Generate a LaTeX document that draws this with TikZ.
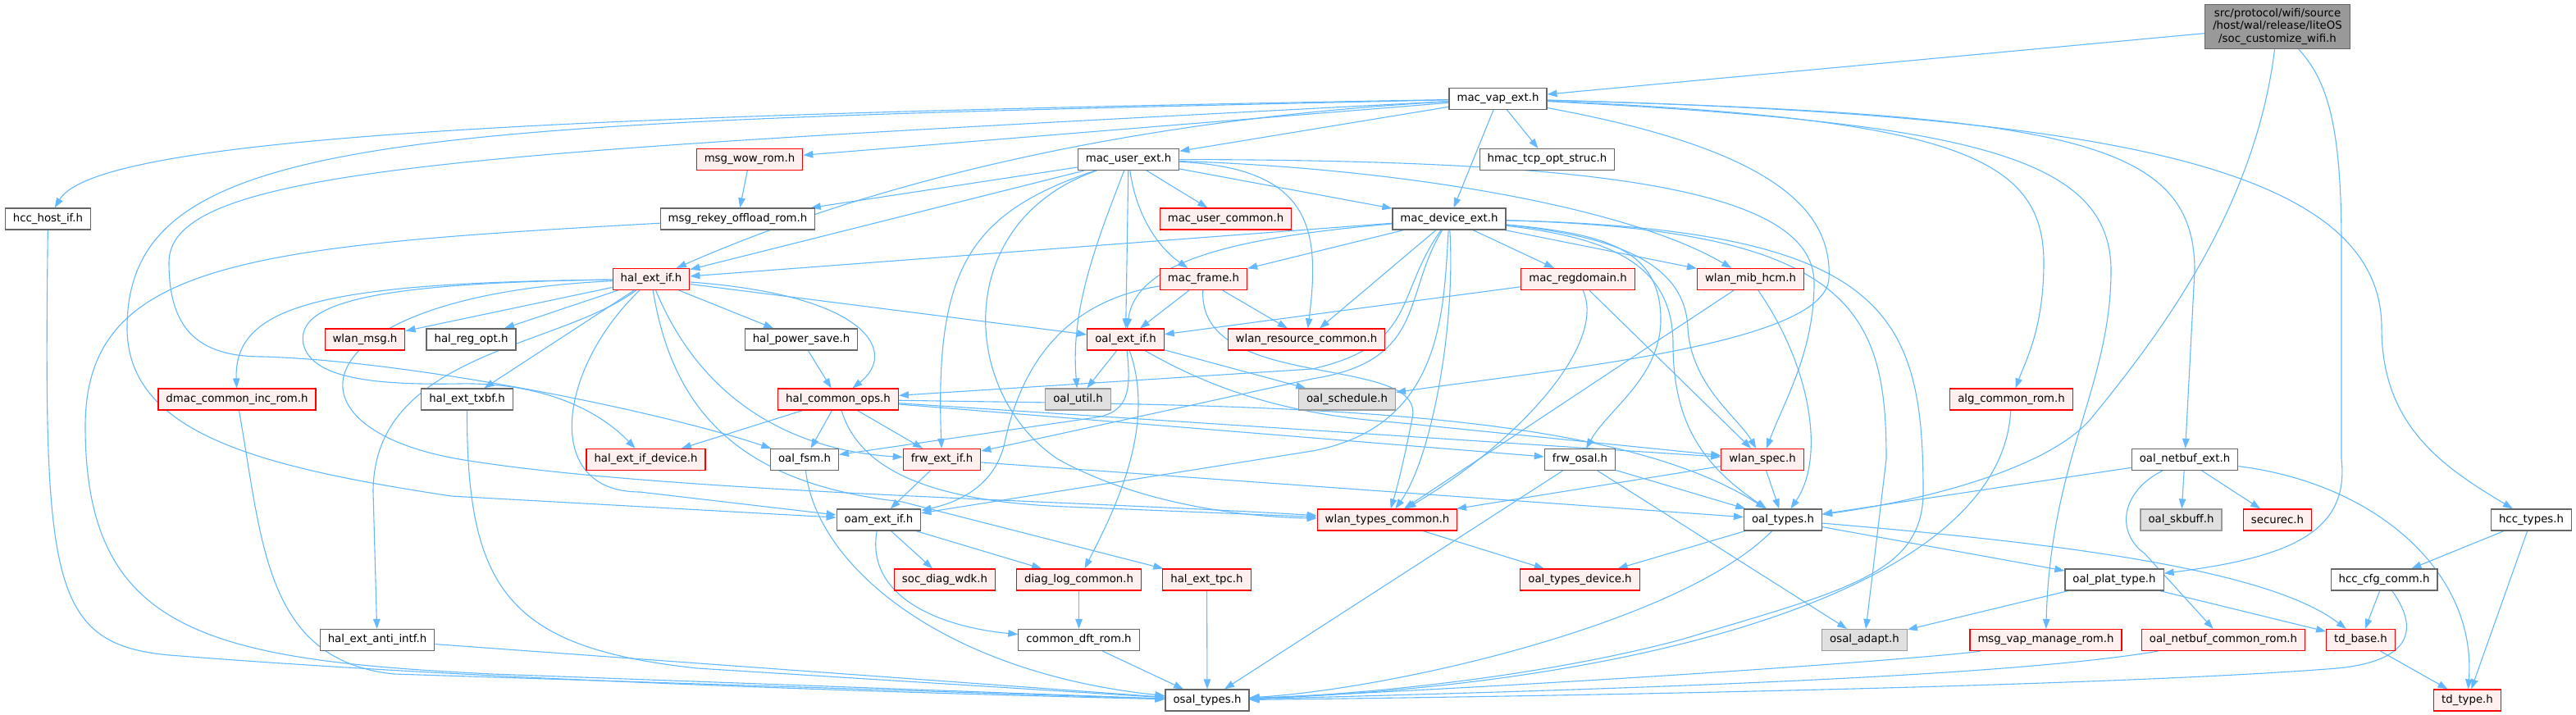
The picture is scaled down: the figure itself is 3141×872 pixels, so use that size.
\documentclass[tikz,border=0pt]{standalone}
\usepackage{fontspec}
\setmainfont{DejaVu Sans}
\usetikzlibrary{arrows.meta}

\definecolor{edgeblue}{HTML}{63B8FF}
\definecolor{boxgray}{HTML}{666666}
\definecolor{truncfill}{HTML}{FFF0F0}
\definecolor{undocline}{HTML}{999999}
\definecolor{undocfill}{HTML}{E0E0E0}
\definecolor{rootfill}{HTML}{999999}

\newcommand{\dotfont}{\fontsize{13.3}{15.5}\selectfont}

\pgfdeclarelayer{bg}
\pgfsetlayers{bg,main}

\begin{document}
\begin{tikzpicture}[x=1pt, y=-1pt,
	hdr/.style = {draw=boxgray, fill=white, line width=1.2pt,
		minimum height=26pt, inner xsep=9.5pt, inner ysep=2pt, font=\dotfont},
	hdrred/.style = {hdr, draw=red, fill=truncfill},
	hdrgray/.style = {hdr, draw=undocline, fill=undocfill},
	hdrroot/.style = {hdr, fill=rootfill, align=center, inner ysep=5pt},
	incl/.style = {draw=edgeblue, line width=1.1pt,
		-{Triangle[length=12pt, width=8.5pt]}}]
	
	\useasboundingbox (0,0) rectangle (3141,872);
	
	% Root file
	\node[hdrroot] (root) at (2777,32.5) {src/protocol/wifi/source\\/host/wal/release/liteOS\\/soc\_customize\_wifi.h};
	
	% Rows 1 to 3
	\node[hdr] (mvap) at (1826.5,120.5) {mac\_vap\_ext.h};
	\node[hdrred] (mwow) at (914,194.5) {msg\_wow\_rom.h};
	\node[hdr] (muser) at (1376,194.5) {mac\_user\_ext.h};
	\node[hdr] (htcp) at (1886.5,194.5) {hmac\_tcp\_opt\_struc.h};
	\node[hdr] (hhost) at (58.5,267) {hcc\_host\_if.h};
	\node[hdr] (mrekey) at (899.5,267) {msg\_rekey\_offload\_rom.h};
	\node[hdrred] (mucom) at (1494.5,267) {mac\_user\_common.h};
	\node[hdr] (mdev) at (1767,267) {mac\_device\_ext.h};
	
	% Rows 4 to 6
	\node[hdrred] (halif) at (794,340.5) {hal\_ext\_if.h};
	\node[hdrred] (mframe) at (1467.5,340.5) {mac\_frame.h};
	\node[hdrred] (mreg) at (1924,340.5) {mac\_regdomain.h};
	\node[hdrred] (wmib) at (2134.5,340.5) {wlan\_mib\_hcm.h};
	\node[hdrred] (wmsg) at (445,414) {wlan\_msg.h};
	\node[hdr] (hreg) at (574.5,414) {hal\_reg\_opt.h};
	\node[hdr] (hps) at (977,414) {hal\_power\_save.h};
	\node[hdrred] (oext) at (1372.5,414) {oal\_ext\_if.h};
	\node[hdrred] (wres) at (1593,414) {wlan\_resource\_common.h};
	\node[hdrred] (dmac) at (289,487) {dmac\_common\_inc\_rom.h};
	\node[hdr] (htxbf) at (569.5,487) {hal\_ext\_txbf.h};
	\node[hdrred] (hops) at (1022,487) {hal\_common\_ops.h};
	\node[hdrgray] (outil) at (1314.5,487) {oal\_util.h};
	\node[hdrgray] (osched) at (1642.5,487) {oal\_schedule.h};
	\node[hdrred] (alg) at (2452.5,487) {alg\_common\_rom.h};
	
	% Rows 7 to 9
	\node[hdrred] (hdev) at (787.5,560.5) {hal\_ext\_if\_device.h};
	\node[hdr] (ofsm) at (981,560.5) {oal\_fsm.h};
	\node[hdrred] (fext) at (1148.5,560.5) {frw\_ext\_if.h};
	\node[hdr] (fosal) at (1926.5,560.5) {frw\_osal.h};
	\node[hdrred] (wspec) at (2149,560.5) {wlan\_spec.h};
	\node[hdr] (onext) at (2664,560.5) {oal\_netbuf\_ext.h};
	\node[hdr] (oam) at (1071.5,634) {oam\_ext\_if.h};
	\node[hdrred] (wtc) at (1691.5,634) {wlan\_types\_common.h};
	\node[hdr] (otypes) at (2174,634) {oal\_types.h};
	\node[hdrgray] (oskb) at (2659.5,634) {oal\_skbuff.h};
	\node[hdrred] (sec) at (2777,634) {securec.h};
	\node[hdr] (htypes) at (3086.5,634) {hcc\_types.h};
	\node[hdrred] (sdiag) at (1152,707) {soc\_diag\_wdk.h};
	\node[hdrred] (dlog) at (1315.5,707) {diag\_log\_common.h};
	\node[hdrred] (htpc) at (1471.5,707) {hal\_ext\_tpc.h};
	\node[hdrred] (otdev) at (1926.5,707) {oal\_types\_device.h};
	\node[hdr] (oplat) at (2578,707) {oal\_plat\_type.h};
	\node[hdr] (hcfg) at (2907,707) {hcc\_cfg\_comm.h};
	
	% Rows 10 and 11
	\node[hdr] (hanti) at (460,780.5) {hal\_ext\_anti\_intf.h};
	\node[hdr] (cdft) at (1315.5,780.5) {common\_dft\_rom.h};
	\node[hdrgray] (oadapt) at (2273.5,780.5) {osal\_adapt.h};
	\node[hdrred] (mvapm) at (2494.5,780.5) {msg\_vap\_manage\_rom.h};
	\node[hdrred] (oncom) at (2711,780.5) {oal\_netbuf\_common\_rom.h};
	\node[hdrred] (tdbase) at (2878.5,780.5) {td\_base.h};
	\node[hdr] (osal) at (1472,854) {osal\_types.h};
	\node[hdrred] (tdtype) at (3008.5,854) {td\_type.h};
	
	\begin{pgfonlayer}{bg}
	% Root file
	\draw[incl] (root) -- (mvap);
	\draw[incl] (root) .. controls (2750,250) and (2640,400) .. (2550,510) .. controls (2500,570) and (2350,610) .. (otypes);
	\draw[incl] (root) .. controls (2840,100) and (2855,160) .. (2855,300) -- (2855,560) .. controls (2865,650) and (2790,680) .. (oplat);
	
	% mac_vap_ext.h
	\draw[incl] (mvap) .. controls (700,140) and (120,165) .. (hhost);
	\draw[incl] (mvap) .. controls (500,150) and (155,155) .. (155,400) .. controls (155,530) and (320,570) .. (550,605) -- (oam);
	\draw[incl] (mvap) .. controls (600,185) and (206,200) .. (206,320) .. controls (206,400) and (240,435) .. (320,435) .. controls (500,440) and (800,500) .. (ofsm);
	\draw[incl] (mvap) -- (mwow);
	\draw[incl] (mvap) -- (muser);
	\draw[incl] (mvap) -- (htcp);
	\draw[incl] (mvap) -- (mdev);
	\draw[incl] (mvap) .. controls (1300,150) and (1000,250) .. (halif);
	\draw[incl] (mvap) .. controls (2380,145) and (2492,190) .. (2492,320) .. controls (2492,400) and (2470,440) .. (alg);
	\draw[incl] (mvap) .. controls (2400,150) and (2574,190) .. (2574,330) .. controls (2574,470) and (2500,560) .. (mvapm);
	\draw[incl] (mvap) .. controls (2520,140) and (2676,170) .. (2676,330) -- (onext);
	\draw[incl] (mvap) .. controls (2560,140) and (2904,200) .. (2904,400) .. controls (2904,520) and (2980,570) .. (htypes);
	\draw[incl] (mvap) .. controls (2150,180) and (2235,250) .. (2230,340) .. controls (2225,420) and (1900,450) .. (osched);
	
	% mac_user_ext.h
	\draw[incl] (mwow) -- (mrekey);
	\draw[incl] (muser) -- (mrekey);
	\draw[incl] (muser) -- (mucom);
	\draw[incl] (muser) -- (mdev);
	\draw[incl] (muser) -- (halif);
	\draw[incl] (muser) .. controls (1385,260) and (1410,300) .. (mframe);
	\draw[incl] (muser) -- (oext);
	\draw[incl] (muser) .. controls (1335,300) and (1305,380) .. (outil);
	\draw[incl] (muser) .. controls (1180,260) and (1140,330) .. (fext);
	\draw[incl] (muser) .. controls (1160,270) and (1170,480) .. (1290,560) .. controls (1380,610) and (1500,630) .. (wtc);
	\draw[incl] (muser) .. controls (1600,205) and (1610,280) .. (wres);
	\draw[incl] (muser) .. controls (1700,205) and (1980,250) .. (wmib);
	\draw[incl] (muser) .. controls (1950,195) and (2212,230) .. (2212,345) .. controls (2212,430) and (2175,490) .. (wspec);
	
	% mac_device_ext.h
	\draw[incl] (mdev) -- (halif);
	\draw[incl] (mdev) -- (mframe);
	\draw[incl] (mdev) .. controls (1500,290) and (1385,320) .. (oext);
	\draw[incl] (mdev) -- (mreg);
	\draw[incl] (mdev) -- (wmib);
	\draw[incl] (mdev) -- (wres);
	\draw[incl] (mdev) .. controls (1700,360) and (1730,420) .. (1600,450) -- (hops);
	\draw[incl] (mdev) .. controls (1710,360) and (1740,440) .. (1600,462) -- (fext);
	\draw[incl] (mdev) .. controls (1760,380) and (1760,520) .. (1600,550) -- (oam);
	\draw[incl] (mdev) .. controls (1775,400) and (1745,560) .. (wtc);
	\draw[incl] (mdev) .. controls (1950,285) and (2025,300) .. (2025,390) .. controls (2025,460) and (1960,500) .. (fosal);
	\draw[incl] (mdev) .. controls (1960,290) and (2040,320) .. (2040,420) .. controls (2040,520) and (2080,570) .. (otypes);
	\draw[incl] (mdev) .. controls (1990,290) and (2055,330) .. (2058,400) .. controls (2062,470) and (2120,510) .. (wspec);
	\draw[incl] (mdev) .. controls (2260,280) and (2300,380) .. (2300,560) -- (oadapt);
	\draw[incl] (mdev) .. controls (2300,280) and (2345,380) .. (2345,600) .. controls (2345,700) and (2250,720) .. (2050,780) .. controls (1900,820) and (1700,845) .. (osal);
	
	% hal_ext_if.h
	\draw[incl] (halif) -- (wmsg);
	\draw[incl] (halif) -- (hreg);
	\draw[incl] (halif) .. controls (400,345) and (285,370) .. (dmac);
	\draw[incl] (halif) -- (htxbf);
	\draw[incl] (halif) .. controls (450,345) and (360,370) .. (370,420) .. controls (380,460) and (450,470) .. (560,468) .. controls (660,466) and (730,500) .. (hdev);
	\draw[incl] (halif) -- (hps);
	\draw[incl] (halif) .. controls (1060,360) and (1095,430) .. (hops);
	\draw[incl] (halif) -- (oext);
	\draw[incl] (halif) .. controls (860,500) and (980,550) .. (fext);
	\draw[incl] (halif) .. controls (680,425) and (455,430) .. (455,600) -- (hanti);
	\draw[incl] (halif) .. controls (820,500) and (900,590) .. (1100,612) -- (htpc);
	\draw[incl] (halif) .. controls (680,450) and (660,600) .. (780,600) -- (oam);
	\draw[incl] (halif) .. controls (370,360) and (330,520) .. (560,560) .. controls (800,600) and (1300,610) .. (wtc);
	
	% hal_common_ops.h
	\draw[incl] (hps) -- (hops);
	\draw[incl] (hops) -- (hdev);
	\draw[incl] (hops) -- (ofsm);
	\draw[incl] (hops) -- (fext);
	\draw[incl] (hops) -- (fosal);
	\draw[incl] (hops) -- (wspec);
	\draw[incl] (hops) .. controls (1050,580) and (1150,612) .. (1300,618) -- (wtc);
	\draw[incl] (hops) .. controls (1500,495) and (1950,490) .. (otypes);
	
	% mac_frame.h, mac_regdomain.h, wlan_mib_hcm.h, wlan_spec.h
	\draw[incl] (mframe) -- (oext);
	\draw[incl] (mframe) -- (wres);
	\draw[incl] (mframe) .. controls (1280,370) and (1240,470) .. (1225,540) .. controls (1215,585) and (1180,610) .. (oam);
	\draw[incl] (mframe) .. controls (1460,480) and (1740,430) .. (1722,510) .. controls (1712,560) and (1705,590) .. (wtc);
	\draw[incl] (mreg) -- (oext);
	\draw[incl] (mreg) -- (wspec);
	\draw[incl] (mreg) .. controls (1960,420) and (1850,540) .. (wtc);
	\draw[incl] (wmib) -- (wtc);
	\draw[incl] (wmib) .. controls (2210,450) and (2225,560) .. (otypes);
	\draw[incl] (wspec) -- (wtc);
	\draw[incl] (wspec) -- (otypes);
	
	% oal_ext_if.h
	\draw[incl] (oext) -- (outil);
	\draw[incl] (oext) -- (osched);
	\draw[incl] (oext) .. controls (1380,480) and (1375,505) .. (1330,510) -- (ofsm);
	\draw[incl] (oext) .. controls (1410,520) and (1360,620) .. (dlog);
	\draw[incl] (oext) .. controls (1470,470) and (1560,505) .. (1700,515) -- (wspec);
	
	% frw, oam, oal types
	\draw[incl] (fext) -- (oam);
	\draw[incl] (fext) -- (otypes);
	\draw[incl] (oam) -- (sdiag);
	\draw[incl] (oam) -- (dlog);
	\draw[incl] (oam) .. controls (1055,730) and (1150,765) .. (cdft);
	\draw[incl] (dlog) -- (cdft);
	\draw[incl] (fosal) -- (otypes);
	\draw[incl] (fosal) -- (oadapt);
	\draw[incl] (fosal) -- (osal);
	\draw[incl] (wtc) -- (otdev);
	\draw[incl] (otypes) -- (otdev);
	\draw[incl] (otypes) -- (oplat);
	\draw[incl] (otypes) .. controls (2480,660) and (2760,690) .. (tdbase);
	\draw[incl] (otypes) .. controls (2050,760) and (1700,840) .. (osal);
	\draw[incl] (oplat) -- (oadapt);
	\draw[incl] (oplat) -- (tdbase);
	
	% oal_netbuf_ext.h and hcc
	\draw[incl] (onext) -- (otypes);
	\draw[incl] (onext) -- (oskb);
	\draw[incl] (onext) -- (sec);
	\draw[incl] (onext) .. controls (2585,600) and (2580,650) .. (2615,675) -- (oncom);
	\draw[incl] (onext) .. controls (2900,590) and (3020,700) .. (tdtype);
	\draw[incl] (htypes) -- (hcfg);
	\draw[incl] (htypes) -- (tdtype);
	\draw[incl] (hcfg) -- (tdbase);
	\draw[incl] (hcfg) .. controls (2945,760) and (2950,805) .. (2850,815) .. controls (2600,835) and (2000,848) .. (osal);
	\draw[incl] (tdbase) -- (tdtype);
	
	% into osal_types.h
	\draw[incl] (hhost) .. controls (53,720) and (60,790) .. (220,800) .. controls (600,830) and (1100,845) .. (osal);
	\draw[incl] (mrekey) .. controls (300,300) and (104,320) .. (104,520) .. controls (104,770) and (250,805) .. (600,822) -- (osal);
	\draw[incl] (dmac) .. controls (320,660) and (322,805) .. (480,822) -- (osal);
	\draw[incl] (htxbf) .. controls (569,720) and (620,790) .. (850,815) -- (osal);
	\draw[incl] (hanti) -- (osal);
	\draw[incl] (ofsm) .. controls (995,690) and (1150,820) .. (osal);
	\draw[incl] (cdft) -- (osal);
	\draw[incl] (htpc) -- (osal);
	\draw[incl] (alg) .. controls (2440,720) and (2000,835) .. (osal);
	\draw[incl] (mvapm) .. controls (2380,800) and (2000,830) .. (osal);
	\draw[incl] (oncom) .. controls (2450,825) and (2000,840) .. (osal);
	\end{pgfonlayer}
	
\end{tikzpicture}
\end{document}
